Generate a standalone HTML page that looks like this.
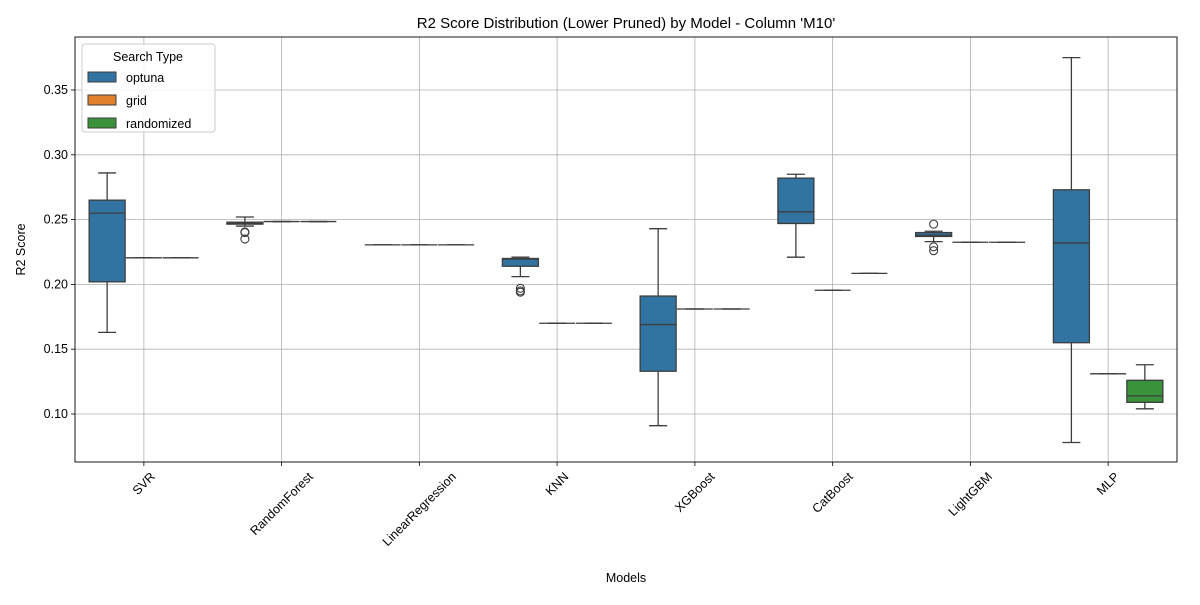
<!DOCTYPE html>
<html><head><meta charset="utf-8"><style>
body{margin:0;background:#fff;font-family:"Liberation Sans","DejaVu Sans",sans-serif}
svg text{font-family:"Liberation Sans","DejaVu Sans",sans-serif}
</style></head><body>
<svg id="chart" width="1200" height="600"></svg>
<script>
const models=["SVR","RandomForest","LinearRegression","KNN","XGBoost","CatBoost","LightGBM","MLP"];
const hues=["optuna","grid","randomized"];
const hueColors=["#3274a1","#e1812c","#3a923a"];
// [lo, q1, med, q3, hi]
const optunaStats=[[0.163,0.202,0.255,0.265,0.286],[0.245,0.2465,0.247,0.248,0.252],[0.2305,0.2305,0.2305,0.2305,0.2305],[0.206,0.214,0.2195,0.220,0.221],[0.091,0.133,0.169,0.191,0.243],[0.221,0.247,0.256,0.282,0.285],[0.233,0.237,0.238,0.240,0.241],[0.078,0.155,0.232,0.273,0.375]];
const gridStats=[[0.2205,0.2205,0.2205,0.2205,0.2205],[0.2485,0.2485,0.2485,0.2485,0.2485],[0.2305,0.2305,0.2305,0.2305,0.2305],[0.170,0.170,0.170,0.170,0.170],[0.181,0.181,0.181,0.181,0.181],[0.1955,0.1955,0.1955,0.1955,0.1955],[0.2325,0.2325,0.2325,0.2325,0.2325],[0.131,0.131,0.131,0.131,0.131]];
const randStats=[[0.2205,0.2205,0.2205,0.2205,0.2205],[0.2485,0.2485,0.2485,0.2485,0.2485],[0.2305,0.2305,0.2305,0.2305,0.2305],[0.170,0.170,0.170,0.170,0.170],[0.181,0.181,0.181,0.181,0.181],[0.2085,0.2085,0.2085,0.2085,0.2085],[0.2325,0.2325,0.2325,0.2325,0.2325],[0.104,0.109,0.114,0.126,0.138]];
const optunaOutliers=[[],[0.240,0.2405,0.235],[],[0.197,0.195,0.194],[],[],[0.2465,0.229,0.226],[]];
const yTicks=[0.10,0.15,0.20,0.25,0.30,0.35];
const yTickLabels=["0.10","0.15","0.20","0.25","0.30","0.35"];

const L=75,R=1177,T=37,B=462;
const NS="http://www.w3.org/2000/svg";
const svg=document.getElementById("chart");
function y(v){return 414-(v-0.10)*1296;}
const step=(R-L)/models.length;
function xc(i){return L+step*(i+0.5);}
const bw=step*0.8/3;
function mk(tag,attrs,parent){const e=document.createElementNS(NS,tag);for(const k in attrs)e.setAttribute(k,attrs[k]);(parent||svg).appendChild(e);return e;}

yTicks.forEach((t,i)=>{
  const g=mk("line",{x1:L,x2:R,y1:y(t),y2:y(t),stroke:"#b0b0b0","stroke-width":0.8});
  
  
  mk("line",{x1:L-4,x2:L,y1:y(t),y2:y(t),stroke:"#000","stroke-width":0.8});
  const tx=mk("text",{x:L-7,y:y(t)+4,"text-anchor":"end","font-size":12.5});
  tx.textContent=yTickLabels[i];
  
  
});
models.forEach((m,i)=>{
  const g=mk("line",{x1:xc(i),x2:xc(i),y1:T,y2:B,stroke:"#b0b0b0","stroke-width":0.8});
  
  
  mk("line",{x1:xc(i),x2:xc(i),y1:B,y2:B+4,stroke:"#000","stroke-width":0.8});
  const tx=mk("text",{x:0,y:0,"text-anchor":"middle","font-size":12.5});
  tx.textContent=m;
  
  
  const w=tx.getComputedTextLength(), h=13;
  const half=(w+h)*0.7071/2;
  const cx=xc(i), cy=B+8+half;
  tx.setAttribute("x",cx);tx.setAttribute("y",cy+4);
  tx.setAttribute("transform",`rotate(-45 ${cx} ${cy})`);
});
const allStats=[optunaStats,gridStats,randStats];
const ec="#3d3d3d";
allStats.forEach((stats,h)=>{
  stats.forEach((s,i)=>{
    const cx=xc(i)+(h-1)*bw, w=bw*0.98;
    const g=mk("g",{});
    
    
    mk("line",{x1:cx,x2:cx,y1:y(s[0]),y2:y(s[1]),stroke:ec,"stroke-width":1.3},g);
    mk("line",{x1:cx,x2:cx,y1:y(s[3]),y2:y(s[4]),stroke:ec,"stroke-width":1.3},g);
    mk("line",{x1:cx-w/4,x2:cx+w/4,y1:y(s[0]),y2:y(s[0]),stroke:ec,"stroke-width":1.3},g);
    mk("line",{x1:cx-w/4,x2:cx+w/4,y1:y(s[4]),y2:y(s[4]),stroke:ec,"stroke-width":1.3},g);
    mk("rect",{x:cx-w/2,y:y(s[3]),width:w,height:Math.max(0,y(s[1])-y(s[3])),fill:hueColors[h],stroke:ec,"stroke-width":1.3},g);
    mk("line",{x1:cx-w/2,x2:cx+w/2,y1:y(s[2]),y2:y(s[2]),stroke:ec,"stroke-width":1.3},g);
    if(h===0)optunaOutliers[i].forEach(o=>{
      const c=mk("circle",{cx:cx,cy:y(o),r:4,fill:"none",stroke:ec,"stroke-width":1.1},g);
      
      
    });
  });
});
mk("rect",{x:L,y:T,width:R-L,height:B-T,fill:"none",stroke:"#000","stroke-width":0.9});
let t=mk("text",{x:(L+R)/2,y:28,"text-anchor":"middle","font-size":15});t.textContent="R2 Score Distribution (Lower Pruned) by Model - Column 'M10'";

t=mk("text",{x:(L+R)/2,y:582,"text-anchor":"middle","font-size":12.5});t.textContent="Models";

t=mk("text",{x:25,y:(T+B)/2,"text-anchor":"middle","font-size":12.5,transform:`rotate(-90 25 ${(T+B)/2})`});t.textContent="R2 Score";

const lg=mk("g",{});

mk("rect",{x:82,y:44,width:133,height:88,rx:3,fill:"#fff","fill-opacity":0.85,stroke:"#ccc"},lg);
t=mk("text",{x:148,y:61,"text-anchor":"middle","font-size":12.5},lg);t.textContent="Search Type";
hues.forEach((hn,i)=>{
  const yy=72+i*23;
  const e=mk("g",{},lg);
  
  
  mk("rect",{x:88,y:yy,width:28,height:10,fill:hueColors[i],stroke:ec,"stroke-width":1},e);
  const tt=mk("text",{x:126,y:yy+10,"font-size":12.5},e);tt.textContent=hn;
});
</script>
</body></html>
